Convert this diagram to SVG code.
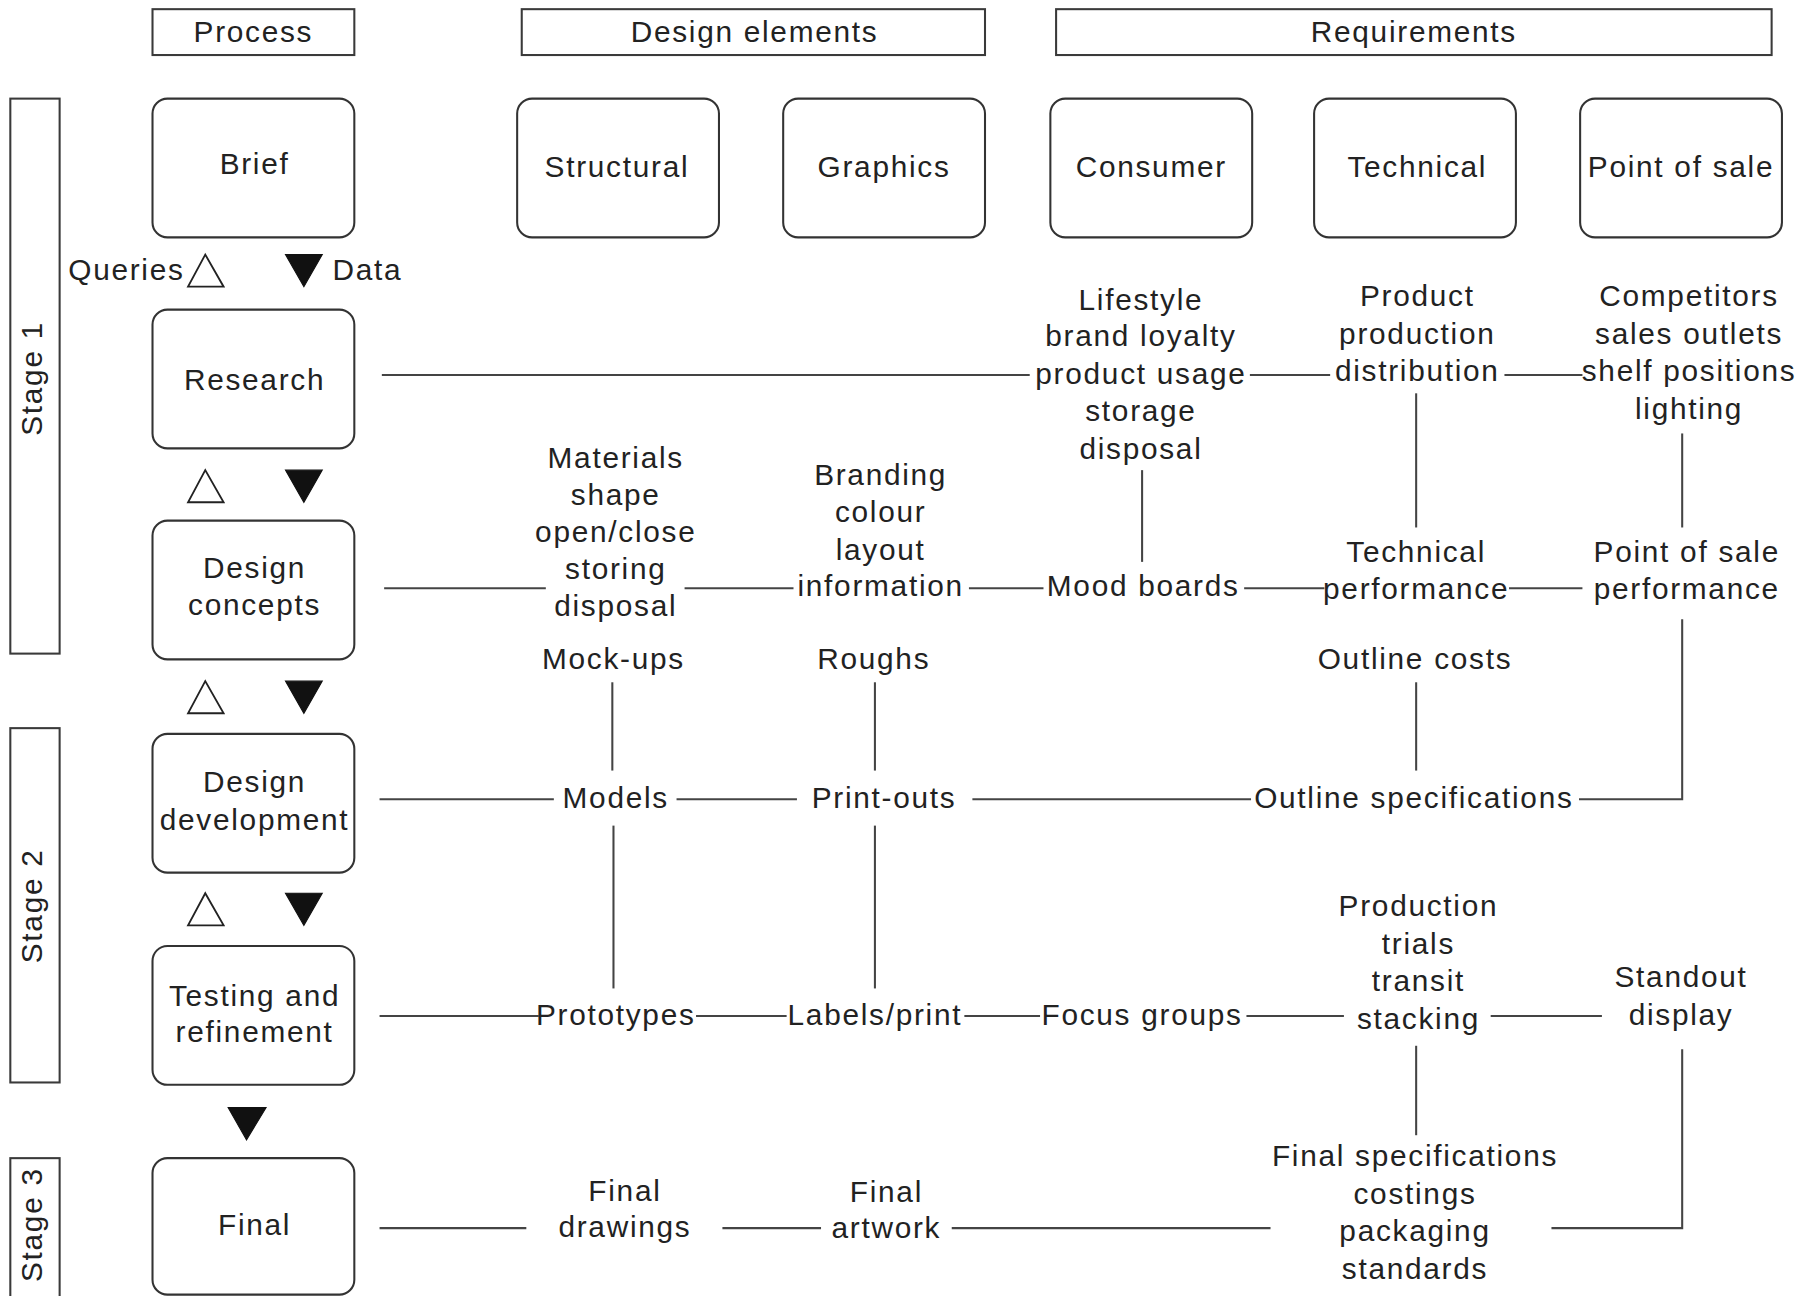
<svg xmlns="http://www.w3.org/2000/svg" width="1798" height="1296" viewBox="0 0 1798 1296">
<style>
.hdr{fill:none;stroke:#3a3a3a;stroke-width:1.8}
.box{fill:none;stroke:#333;stroke-width:1.8}
.t{font-family:"Liberation Sans",Arial,sans-serif;font-size:26px;fill:#222;text-anchor:middle;letter-spacing:1.5px}
.l{text-anchor:start}
.r{text-anchor:end}
.c line,.c polyline{stroke:#444;stroke-width:1.8;fill:none}
.up{fill:#fff;stroke:#222;stroke-width:1.6}
.dn{fill:#111;stroke:#111;stroke-width:1}
</style>
<rect width="1798" height="1296" fill="#fff"/>
<g transform="scale(1.146684)">
<g id="hdr-process"><rect class="hdr" x="133" y="8" width="176" height="40"/><text class="t" x="221" y="37">Process</text></g>
<g id="hdr-design"><rect class="hdr" x="455" y="8" width="404" height="40"/><text class="t" x="658" y="37">Design elements</text></g>
<g id="hdr-req"><rect class="hdr" x="921" y="8" width="624" height="40"/><text class="t" x="1233" y="37">Requirements</text></g>

<g id="stage1"><rect class="hdr" x="9" y="86" width="43" height="484"/><text class="t" transform="translate(28,330) rotate(-90)" x="0" y="9">Stage 1</text></g>
<g id="stage2"><rect class="hdr" x="9" y="635" width="43" height="309"/><text class="t" transform="translate(28,790) rotate(-90)" x="0" y="9">Stage 2</text></g>
<g id="stage3"><rect class="hdr" x="9" y="1010" width="43" height="140"/><text class="t" transform="translate(28,1068) rotate(-90)" x="0" y="9">Stage 3</text></g>

<g id="brief"><rect class="box" x="133" y="86" width="176" height="121" rx="13"/><text class="t" x="222" y="152">Brief</text></g>
<g id="structural"><rect class="box" x="451" y="86" width="176" height="121" rx="13"/><text class="t" x="538" y="154">Structural</text></g>
<g id="graphics"><rect class="box" x="683" y="86" width="176" height="121" rx="13"/><text class="t" x="771" y="154">Graphics</text></g>
<g id="consumer"><rect class="box" x="916" y="86" width="176" height="121" rx="13"/><text class="t" x="1004" y="154">Consumer</text></g>
<g id="technical"><rect class="box" x="1146" y="86" width="176" height="121" rx="13"/><text class="t" x="1236" y="154">Technical</text></g>
<g id="pos"><rect class="box" x="1378" y="86" width="176" height="121" rx="13"/><text class="t" x="1466" y="154">Point of sale</text></g>

<g id="research"><rect class="box" x="133" y="270" width="176" height="121" rx="13"/><text class="t" x="222" y="340">Research</text></g>
<g id="concepts"><rect class="box" x="133" y="454" width="176" height="121" rx="13"/><text class="t" x="222" y="504">Design</text><text class="t" x="222" y="536">concepts</text></g>
<g id="development"><rect class="box" x="133" y="640" width="176" height="121" rx="13"/><text class="t" x="222" y="691">Design</text><text class="t" x="222" y="724">development</text></g>
<g id="testing"><rect class="box" x="133" y="825" width="176" height="121" rx="13"/><text class="t" x="222" y="877">Testing and</text><text class="t" x="222" y="909">refinement</text></g>
<g id="final"><rect class="box" x="133" y="1010" width="176" height="119" rx="13"/><text class="t" x="222" y="1077">Final</text></g>

<g id="flow-labels"><text class="t r" x="161" y="244">Queries</text><text class="t l" x="290" y="244">Data</text></g>

<g id="consumer-research"><text class="t" x="995" y="270">Lifestyle</text><text class="t" x="995" y="302">brand loyalty</text><text class="t" x="995" y="335">product usage</text><text class="t" x="995" y="367">storage</text><text class="t" x="995" y="400">disposal</text></g>
<g id="tech-research"><text class="t" x="1236" y="267">Product</text><text class="t" x="1236" y="300">production</text><text class="t" x="1236" y="332">distribution</text></g>
<g id="pos-research"><text class="t" x="1473" y="267">Competitors</text><text class="t" x="1473" y="300">sales outlets</text><text class="t" x="1473" y="332">shelf positions</text><text class="t" x="1473" y="365">lighting</text></g>

<g id="struct-concepts"><text class="t" x="537" y="408">Materials</text><text class="t" x="537" y="440">shape</text><text class="t" x="537" y="473">open/close</text><text class="t" x="537" y="505">storing</text><text class="t" x="537" y="537">disposal</text></g>
<g id="graph-concepts"><text class="t" x="768" y="423">Branding</text><text class="t" x="768" y="455">colour</text><text class="t" x="768" y="488">layout</text><text class="t" x="768" y="520">information</text></g>
<g id="mood"><text class="t" x="997" y="520">Mood boards</text></g>
<g id="tech-perf"><text class="t" x="1235" y="490">Technical</text><text class="t" x="1235" y="522">performance</text></g>
<g id="pos-perf"><text class="t" x="1471" y="490">Point of sale</text><text class="t" x="1471" y="522">performance</text></g>

<g id="mockups"><text class="t" x="535" y="583">Mock-ups</text></g>
<g id="roughs"><text class="t" x="762" y="583">Roughs</text></g>
<g id="outline-costs"><text class="t" x="1234" y="583">Outline costs</text></g>

<g id="models"><text class="t" x="537" y="705">Models</text></g>
<g id="printouts"><text class="t" x="771" y="705">Print-outs</text></g>
<g id="outline-specs"><text class="t" x="1233" y="705">Outline specifications</text></g>

<g id="prototypes"><text class="t" x="537" y="894">Prototypes</text></g>
<g id="labels"><text class="t" x="763" y="894">Labels/print</text></g>
<g id="focus"><text class="t" x="996" y="894">Focus groups</text></g>
<g id="production"><text class="t" x="1237" y="799">Production</text><text class="t" x="1237" y="832">trials</text><text class="t" x="1237" y="864">transit</text><text class="t" x="1237" y="897">stacking</text></g>
<g id="standout"><text class="t" x="1466" y="861">Standout</text><text class="t" x="1466" y="894">display</text></g>

<g id="final-drawings"><text class="t" x="545" y="1047">Final</text><text class="t" x="545" y="1079">drawings</text></g>
<g id="final-artwork"><text class="t" x="773" y="1048">Final</text><text class="t" x="773" y="1080">artwork</text></g>
<g id="final-specs"><text class="t" x="1234" y="1017">Final specifications</text><text class="t" x="1234" y="1050">costings</text><text class="t" x="1234" y="1082">packaging</text><text class="t" x="1234" y="1115">standards</text></g>

<g id="connectors" class="c">
<polygon class="up" points="179,222 164,250 195,250"/><polygon class="dn" points="249,222 281,222 265,250"/>
<polygon class="up" points="179,410 164,438 195,438"/><polygon class="dn" points="249,410 281,410 265,438"/>
<polygon class="up" points="179,594 164,622 195,622"/><polygon class="dn" points="249,594 281,594 265,622"/>
<polygon class="up" points="179,779 164,807 195,807"/><polygon class="dn" points="249,779 281,779 265,807"/>
<polygon class="dn" points="199,966 232,966 215,994"/>

<line x1="333" y1="327" x2="898" y2="327"/>
<line x1="1090" y1="327" x2="1160" y2="327"/>
<line x1="1312" y1="327" x2="1380" y2="327"/>
<line x1="996" y1="410" x2="996" y2="490"/>
<line x1="1235" y1="343" x2="1235" y2="460"/>
<line x1="1467" y1="378" x2="1467" y2="460"/>

<line x1="335" y1="513" x2="476" y2="513"/>
<line x1="597" y1="513" x2="692" y2="513"/>
<line x1="845" y1="513" x2="910" y2="513"/>
<line x1="1085" y1="513" x2="1155" y2="513"/>
<line x1="1316" y1="513" x2="1380" y2="513"/>

<line x1="534" y1="595" x2="534" y2="672"/>
<line x1="763" y1="595" x2="763" y2="672"/>
<line x1="1235" y1="595" x2="1235" y2="672"/>

<line x1="331" y1="697" x2="483" y2="697"/>
<line x1="590" y1="697" x2="695" y2="697"/>
<line x1="848" y1="697" x2="1091" y2="697"/>
<polyline points="1377,697 1467,697 1467,540"/>

<line x1="535" y1="720" x2="535" y2="862"/>
<line x1="763" y1="720" x2="763" y2="862"/>

<line x1="331" y1="886" x2="470" y2="886"/>
<line x1="607" y1="886" x2="686" y2="886"/>
<line x1="841" y1="886" x2="907" y2="886"/>
<line x1="1087" y1="886" x2="1172" y2="886"/>
<line x1="1300" y1="886" x2="1397" y2="886"/>
<line x1="1235" y1="912" x2="1235" y2="990"/>

<line x1="331" y1="1071" x2="459" y2="1071"/>
<line x1="630" y1="1071" x2="716" y2="1071"/>
<line x1="830" y1="1071" x2="1108" y2="1071"/>
<polyline points="1353,1071 1467,1071 1467,915"/>
</g>
</g>
</svg>
